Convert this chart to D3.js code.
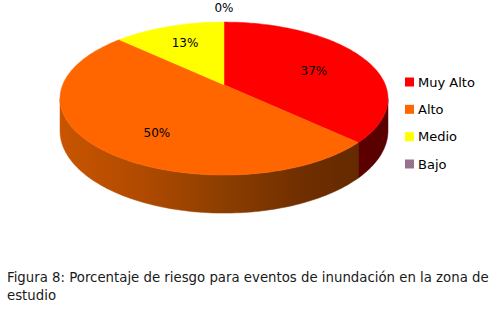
<!DOCTYPE html>
<html>
<head>
<meta charset="utf-8">
<script src="https://cdn.jsdelivr.net/npm/d3@7"></script>
<style>
  body { margin: 0; background: #fff; }
  svg { display: block; font-family: "DejaVu Sans", Verdana, sans-serif; }
</style>
</head>
<body>
<div id="chart"></div>
<script>
const categories = ["Muy Alto", "Alto", "Medio", "Bajo"];
const values = [37, 50, 13, 0];
const labels = ["37%", "50%", "13%", "0%"];
const colors = ["#FF0000", "#FF6600", "#FFFF00", "url(#bajoPat)"];
const caption = ["Figura 8: Porcentaje de riesgo para eventos de inundación en la zona de", "estudio"];

function init() {
    const width = 500, height = 309;
    // pie seen in perspective: k shrinks the far half
    const cx = 224, cy = 84.8, R = 161.3, S = 74, k = 0.18, D = 31.2;

    const svg = d3.select("#chart")
        .append("svg")
        .attr("width", width)
        .attr("height", height);

    svg.append("rect").attr("width", width).attr("height", height).attr("fill", "#fff");

    const defs = svg.append("defs");
    const pat = defs.append("pattern")
        .attr("id", "bajoPat")
        .attr("width", 2).attr("height", 2)
        .attr("patternUnits", "userSpaceOnUse");
    pat.append("rect").attr("width", 2).attr("height", 2).attr("fill", "#4F81BD");
    pat.append("rect").attr("width", 1).attr("height", 1).attr("fill", "#E0605A");
    pat.append("rect").attr("x", 1).attr("y", 1).attr("width", 1).attr("height", 1).attr("fill", "#E0605A");

    const sideStops = [
        ["#700000", "#5A0000"],
        ["#C85500", "#B04A00", "#8C3E00", "#6E2E00", "#602800"],
        ["#A0A000", "#808000"],
        ["#305080", "#203860"]
    ];
    sideStops.forEach((s, i) => {
        const g = defs.append("linearGradient")
            .attr("id", "side" + i)
            .attr("gradientUnits", "userSpaceOnUse")
            .attr("x1", 60).attr("x2", 388)
            .attr("y1", 0).attr("y2", 0);
        s.forEach((c, j) => g.append("stop")
            .attr("offset", j / (s.length - 1))
            .attr("stop-color", c));
    });

    const pie = d3.pie().sort(null).value(d => d)(values);

    // angle measured clockwise from 12 o'clock
    const proj = (a, dz = 0) => {
        const u = Math.sin(a), v = Math.cos(a), w = 1 + k * v;
        return [cx + R * u / w, cy + (dz - S * v) / w];
    };
    const arcPts = (a0, a1, dz = 0) => {
        const n = Math.max(2, Math.ceil(Math.abs(a1 - a0) / 0.02));
        return d3.range(n + 1).map(i => proj(a0 + (a1 - a0) * i / n, dz));
    };
    const line = d3.line();

    // sides (visible front part only)
    const fa = Math.acos(-k), fb = 2 * Math.PI - fa;
    pie.forEach((p, i) => {
        const a = Math.max(p.startAngle, fa);
        const b = Math.min(p.endAngle, fb);
        if (b <= a) return;
        const pts = arcPts(a, b).concat(arcPts(b, a, D));
        svg.append("path")
            .attr("d", line(pts) + "Z")
            .attr("fill", `url(#side${i})`)
            .attr("stroke", `url(#side${i})`)
            .attr("stroke-width", 0.5);
    });

    // top faces
    pie.forEach((p, i) => {
        if (p.endAngle - p.startAngle <= 0) return;
        const pts = [[cx, cy]].concat(arcPts(p.startAngle, p.endAngle));
        svg.append("path")
            .attr("d", line(pts) + "Z")
            .attr("fill", colors[i])
            .attr("stroke", colors[i])
            .attr("stroke-width", 0.5);
    });

    // data labels
    const lcx = 224, lcy = 93, lrx = 98, lry = 55;
    pie.forEach((p, i) => {
        const m = (p.startAngle + p.endAngle) / 2;
        let x, y;
        if (p.value === 0) {
            const q = proj(m);
            x = q[0]; y = q[1] - 14;
        } else {
            x = lcx + lrx * Math.sin(m);
            y = lcy - lry * Math.cos(m);
        }
        svg.append("text")
            .attr("x", x).attr("y", y)
            .attr("text-anchor", "middle")
            .attr("dominant-baseline", "central")
            .attr("font-size", 12)
            .attr("fill", "#000")
            .text(labels[i]);
    });

    // legend
    const ly = d3.scalePoint().domain(categories).range([82, 164]);
    const legend = svg.append("g")
        .selectAll("g")
        .data(categories)
        .join("g")
        .attr("transform", d => `translate(405,${ly(d)})`);
    legend.append("rect")
        .attr("y", -4.5)
        .attr("width", 9).attr("height", 9)
        .attr("fill", (d, i) => colors[i]);
    legend.append("text")
        .attr("x", 13)
        .attr("dominant-baseline", "central")
        .attr("font-size", 13)
        .attr("fill", "#000")
        .text(d => d);

    // caption
    svg.append("g")
        .selectAll("text")
        .data(caption)
        .join("text")
        .attr("x", 7)
        .attr("y", (d, i) => 282 + i * 18)
        .attr("font-size", 13.3)
        .attr("fill", "#1a1a1a")
        .text(d => d);
}

window.onload = init;
</script>
</body>
</html>
